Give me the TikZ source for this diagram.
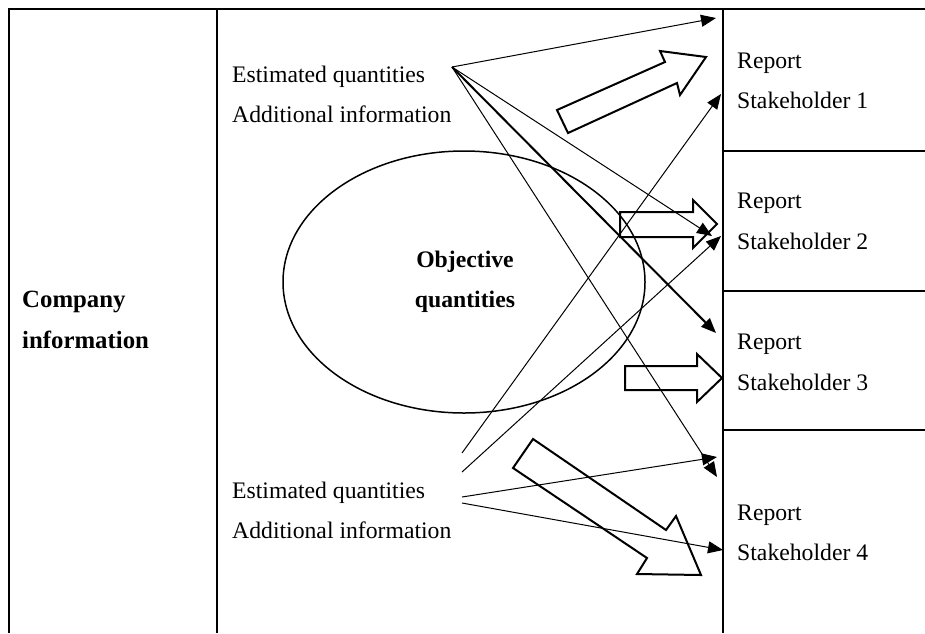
\documentclass[tikz,border=0pt]{standalone}
\usepackage{fontspec}
\setmainfont{Liberation Serif}
\usetikzlibrary{arrows.meta}
\begin{document}
\begin{tikzpicture}[x=1pt,y=-1pt,
  tbl/.style={line width=1.8pt},
  txt/.style={anchor=base west, inner sep=0pt, font=\fontsize{23.7}{28}\selectfont},
  btxt/.style={anchor=base west, inner sep=0pt, font=\fontsize{24.8}{28}\selectfont\bfseries},
  ctxt/.style={anchor=base, inner sep=0pt, font=\fontsize{23.7}{28}\selectfont\bfseries},
  conn/.style={line width=1pt, -{Triangle[length=15pt,width=12pt]}},
  thickconn/.style={line width=2pt, -{Triangle[length=15pt,width=12pt]}},
  blockarrow/.style={draw, line width=2pt, line join=miter},
  oval/.style={line width=1.5pt},
]
\useasboundingbox (0,0) rectangle (925,633);

% table
\draw[tbl] (925,9) -- (9,9) -- (9,633);
\draw[tbl] (217,9) -- (217,633);
\draw[tbl] (723,9) -- (723,633);
\draw[tbl] (723,151) -- (925,151);
\draw[tbl] (723,291) -- (925,291);
\draw[tbl] (723,430) -- (925,430);

% ellipse
\draw[oval] (464,282) ellipse [x radius=181, y radius=131];

% texts
\node[btxt] (comp) at (22,307) {Company};
\node[btxt] (info) at (22,348) {information};
\node[txt] (e1) at (232,82) {Estimated quantities};
\node[txt] (a1) at (232,122) {Additional information};
\node[txt] (e2) at (232,498) {Estimated quantities};
\node[txt] (a2) at (232,538) {Additional information};
\node[ctxt] (obj) at (465,267) {Objective};
\node[ctxt] (qty) at (465,307) {quantities};
\node[txt] (r1) at (737,68) {Report};
\node[txt] (s1) at (737,108) {Stakeholder 1};
\node[txt] (r2) at (737,208) {Report};
\node[txt] (s2) at (737,249) {Stakeholder 2};
\node[txt] (r3) at (737,349) {Report};
\node[txt] (s3) at (737,390) {Stakeholder 3};
\node[txt] (r4) at (737,520) {Report};
\node[txt] (s4) at (737,560) {Stakeholder 4};

% connector ends
\coordinate (T) at (452,67);
\coordinate (B1) at (462,453);
\coordinate (B2) at (462,472);
\coordinate (B3) at (462,497);
\coordinate (B4) at (462,503);
\coordinate (t1a) at (716,18);
\coordinate (t1b) at (721,94);
\coordinate (t2a) at (712,236);
\coordinate (t2b) at (721,236);
\coordinate (t3) at (716,333);
\coordinate (t4a) at (717,457);
\coordinate (t4b) at (717,477);
\coordinate (t4c) at (723,550);

\draw[conn] (T) -- (t1a);
\draw[conn] (T) -- (t2a);
\draw[thickconn] (T) -- (t3);
\draw[conn] (T) -- (t4b);
\draw[conn] (B1) -- (t1b);
\draw[conn] (B2) -- (t2b);
\draw[conn] (B3) -- (t4a);
\draw[conn] (B4) -- (t4c);

% block arrows
\draw[blockarrow] (557,110) -- (665,62) -- (660,51) -- (706,57) -- (680,95) -- (677,83) -- (568,133) -- cycle;
\draw[blockarrow] (620,212) -- (693,212) -- (693,200) -- (717,224) -- (693,248) -- (693,237) -- (620,237) -- cycle;
\draw[blockarrow] (625,366) -- (697,366) -- (697,354) -- (722,378) -- (697,402) -- (697,390) -- (625,390) -- cycle;
\draw[blockarrow] (533,439) -- (666,530) -- (676,516) -- (701,575) -- (637,574) -- (647,558) -- (513,468) -- cycle;
\end{tikzpicture}
\end{document}
